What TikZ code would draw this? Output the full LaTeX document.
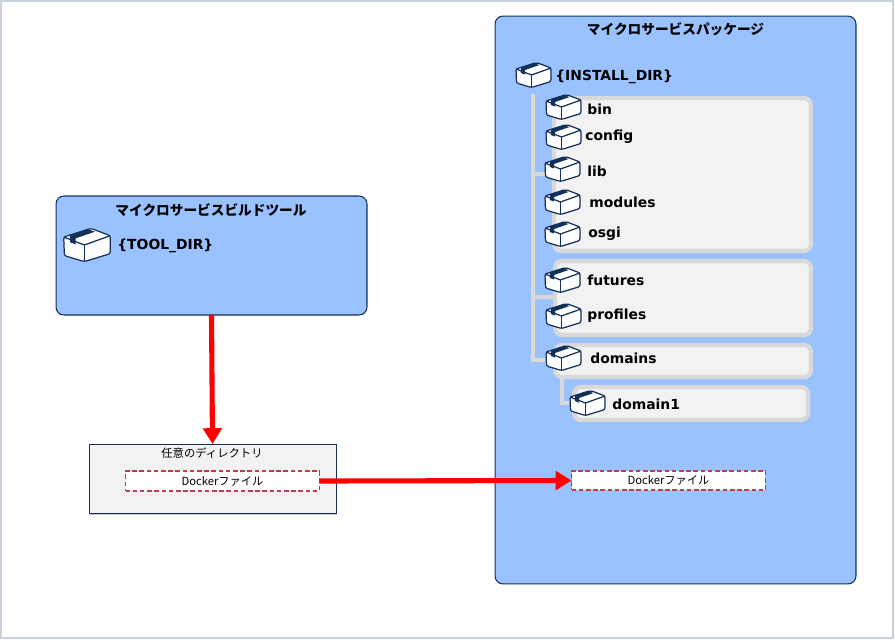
\documentclass[tikz,border=0pt]{standalone}
\usepackage{fontspec}
\usepackage{tikz}
\usepackage{xcolor}
\usetikzlibrary{arrows.meta,shadows}
\setmainfont{DejaVu Sans}
\newfontfamily\jpfont{Noto Sans CJK JP}
\definecolor{PackBlue}{HTML}{99C2FF}
\definecolor{FrameNavy}{HTML}{12305A}
\definecolor{PanelGray}{HTML}{F2F2F2}
\definecolor{PanelEdge}{HTML}{D9D9D9}
\definecolor{DashRed}{HTML}{C03A55}
\definecolor{OuterEdge}{HTML}{C9D3DE}
\tikzset{
  pkgicon/.pic={
    \draw[FrameNavy,fill=white,line width=0.7pt,rounded corners=1.2pt]
      (-17.5,-6) -- (3,-12.5) -- (17.5,-7) -- (17.5,6.5) -- (-2,12.5) -- (-17,8) -- cycle;
    \draw[FrameNavy,line width=0.7pt] (-17.5,-6) -- (-2,0) -- (17.5,-7);
    \draw[FrameNavy,line width=0.7pt] (-2,0) -- (-2,12.5);
    \fill[FrameNavy] (-12.7,-7.4) -- (0.5,-11.8) -- (6,-10) -- (-8.5,-5) -- (-8.5,-0.5) -- (-12.7,-2) -- cycle;
  }
}
\begin{document}
\begin{tikzpicture}[
    x=0.02cm,y=-0.02cm,
    >=Latex,
    bigbox/.style={draw=FrameNavy,fill=PackBlue,line width=0.6pt,rounded corners=4.5pt,outer sep=0pt},
    panel/.style={draw=PanelEdge,fill=PanelGray,line width=2.4pt,rounded corners=4pt},
    treeline/.style={draw=PanelEdge,line width=2.4pt},
    dockerfile/.style={draw=DashRed,fill=white,dashed,dash pattern=on 2.6pt off 1.5pt,line width=0.9pt,
      minimum width=3.88cm,minimum height=0.39cm,inner sep=0pt,outer sep=0pt,font=\jpfont\fontsize{6.4pt}{8pt}\selectfont},
    title/.style={font=\jpfont\bfseries\fontsize{7.78pt}{9pt}\selectfont,inner sep=0pt},
    dirname/.style={anchor=west,inner sep=0pt,font=\bfseries\fontsize{7.9pt}{9pt}\selectfont},
    flow/.style={->,red,line width=2.9pt,-{Triangle[length=9pt,width=10.5pt]}}
  ]
  \useasboundingbox (0,0) rectangle (895,639);
  \draw[OuterEdge,line width=0.6pt] (1,1) rectangle (893,638);

  \node[bigbox,minimum width=7.22cm,minimum height=11.36cm] (package) at (675.5,300) {};
  \node[title] (packagetitle) at (675.5,29) {マイクロサービスパッケージ};

  \node[bigbox,minimum width=6.22cm,minimum height=2.38cm] (toolbox) at (211.5,255.5) {};
  \node[title] (tooltitle) at (211,210) {マイクロサービスビルドツール};

  \node[draw=FrameNavy,fill=PanelGray,line width=0.45pt,minimum width=4.94cm,minimum height=1.38cm,outer sep=0pt,
    drop shadow={shadow xshift=0.5pt,shadow yshift=-1pt,opacity=0.45}] (anydir) at (212.5,478.5) {};
  \node[inner sep=0pt,font=\jpfont\fontsize{6.45pt}{8pt}\selectfont] (anydirtitle) at (212,453) {任意のディレクトリ};

  % gray groups
  \draw[panel] (554,98) rectangle (811,251);
  \draw[panel] (555,261) rectangle (811,335);
  \draw[panel] (555,345) rectangle (811,377);
  \draw[panel] (574,387) rectangle (808,420);

  % tree
  \coordinate (trunktop) at (533,94);
  \coordinate (trunkend) at (533,360);
  \coordinate (libjoin) at (533,174);
  \coordinate (libstub) at (556,174);
  \coordinate (futjoin) at (533,297);
  \coordinate (futstub) at (556,297);
  \coordinate (domstub) at (550,360);
  \coordinate (subtop) at (562,379);
  \coordinate (subend) at (575,403);
  \draw[treeline] (trunktop) -- (trunkend) -- (domstub);
  \draw[treeline] (libjoin) -- (libstub);
  \draw[treeline] (futjoin) -- (futstub);
  \draw[treeline] (subtop) |- (subend);

  % icons and names
  \pic at (533.5,75) {pkgicon};
  \node[dirname] (installdir) at (555,77) {\{INSTALL\_DIR\}};
  \pic at (563.5,107) {pkgicon};
  \node[dirname] (bin) at (587,109) {bin};
  \pic at (563.5,137) {pkgicon};
  \node[dirname] (config) at (585,137) {config};
  \pic at (562.5,169) {pkgicon};
  \node[dirname] (lib) at (587,171) {lib};
  \pic at (562.5,202) {pkgicon};
  \node[dirname] (modules) at (589,202) {modules};
  \pic at (562.5,234) {pkgicon};
  \node[dirname] (osgi) at (588,234) {osgi};
  \pic at (562.5,280) {pkgicon};
  \node[dirname] (futures) at (587,280) {futures};
  \pic at (563.5,316) {pkgicon};
  \node[dirname] (profiles) at (587,316) {profiles};
  \pic at (563.5,358) {pkgicon};
  \node[dirname] (domains) at (590,358) {domains};
  \pic at (587.5,403) {pkgicon};
  \node[dirname] (domainone) at (612,404) {domain1};

  \pic[scale=1.33] at (87,245) {pkgicon};
  \node[dirname] (tooldir) at (117,246) {\{TOOL\_DIR\}};

  \node[dockerfile] (dockersrc) at (222.5,481) {Dockerファイル};
  \node[dockerfile] (dockerdst) at (668.5,480.5) {Dockerファイル};

  \draw[flow] (toolbox.south) -- (anydir.north);
  \draw[flow] (dockersrc.east) -- (dockerdst.west);
\end{tikzpicture}
\end{document}
